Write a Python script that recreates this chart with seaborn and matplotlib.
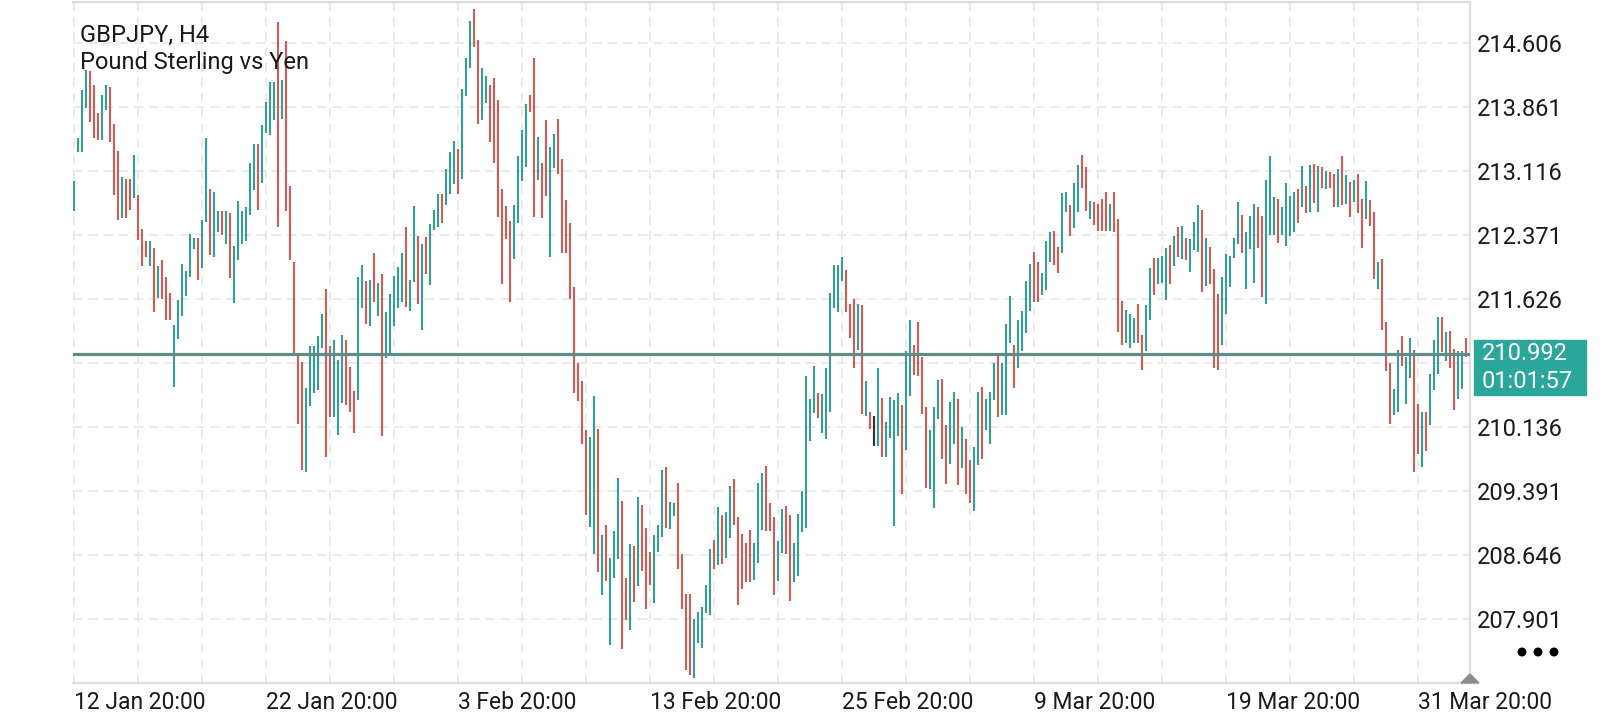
import numpy as np
import pandas as pd
import matplotlib
matplotlib.use("Agg")
import matplotlib.pyplot as plt
from matplotlib.patches import Rectangle, Polygon, Circle
import seaborn as sns

# chart text
symbol = "GBPJPY, H4"
description = "Pound Sterling vs Yen"
last_price = 210.992
countdown = "01:01:57"

# axis ticks (bar index for dates); 210.881 sits under the price tag
price_ticks = [207.901, 208.646, 209.391, 210.136, 210.881,
               211.626, 212.371, 213.116, 213.861, 214.606]
hidden_tick = 210.881
date_ticks = [0, 48, 96, 144, 192, 240, 288, 336]
date_labels = ["12 Jan 20:00", "22 Jan 20:00", "3 Feb 20:00", "13 Feb 20:00",
               "25 Feb 20:00", "9 Mar 20:00", "19 Mar 20:00", "31 Mar 20:00"]

# H4 bars: high / low
highs = [
    213.00, 213.50, 214.06, 214.30, 214.28, 214.12, 213.79, 214.01, 214.12, 214.10,
    213.67, 213.35, 213.05, 213.03, 213.03, 213.31, 212.84, 212.45, 212.30, 212.30,
    212.22, 212.01, 212.08, 211.89, 211.70, 211.33, 211.62, 212.04, 211.96, 212.39,
    212.34, 212.34, 212.55, 213.50, 212.91, 212.87, 212.65, 212.65, 212.65, 212.63,
    212.25, 212.77, 212.65, 212.70, 213.21, 213.43, 213.43, 213.66, 213.92, 214.16,
    214.15, 214.85, 214.18, 214.63, 212.94, 212.06, 211.00, 210.90, 210.59, 211.08,
    211.08, 211.20, 211.46, 211.75, 211.08, 211.15, 210.92, 211.21, 211.15, 210.84,
    210.56, 211.89, 212.02, 211.84, 211.85, 212.17, 211.82, 211.92, 211.48, 211.69,
    211.90, 212.00, 212.16, 212.47, 211.85, 212.71, 212.36, 212.27, 212.35, 212.50,
    212.67, 212.85, 212.85, 213.14, 213.34, 213.47, 213.38, 214.07, 214.43, 214.87,
    215.00, 214.64, 214.32, 214.23, 214.12, 214.20, 213.95, 212.91, 212.71, 212.54,
    212.72, 213.29, 213.60, 213.90, 214.00, 214.43, 213.52, 213.21, 213.71, 213.40,
    213.55, 213.72, 213.26, 212.78, 212.52, 211.77, 210.88, 210.67, 210.11, 210.02,
    210.50, 210.12, 208.88, 209.00, 208.62, 208.93, 209.55, 209.28, 208.38, 208.78,
    208.75, 209.33, 209.23, 208.96, 208.69, 208.88, 209.00, 209.64, 209.68, 209.27,
    209.25, 209.49, 208.66, 208.20, 208.20, 207.91, 207.99, 208.04, 208.30, 208.72,
    208.82, 209.21, 209.12, 209.15, 209.45, 209.53, 209.09, 208.89, 208.79, 208.94,
    208.79, 209.49, 209.61, 209.69, 209.26, 209.09, 208.81, 209.19, 209.22, 209.11,
    208.79, 209.13, 209.39, 210.73, 210.47, 210.85, 210.54, 210.52, 210.83, 211.70,
    212.03, 212.03, 212.12, 211.97, 211.57, 211.63, 211.57, 211.56, 210.67, 210.31,
    210.27, 210.83, 210.48, 210.20, 210.49, 210.46, 210.53, 210.40, 211.02, 211.38,
    211.10, 211.36, 210.95, 210.37, 210.10, 210.37, 210.69, 210.70, 210.16, 210.43,
    210.55, 210.47, 210.14, 210.00, 209.76, 209.91, 210.55, 210.61, 210.47, 210.55,
    210.88, 210.97, 210.88, 211.34, 211.67, 211.10, 211.38, 211.49, 211.84, 212.04,
    212.18, 212.06, 211.93, 212.30, 212.41, 212.42, 212.24, 212.86, 212.88, 212.72,
    212.98, 213.19, 213.31, 213.17, 212.77, 212.76, 212.74, 212.79, 212.87, 212.74,
    212.88, 212.56, 211.61, 211.50, 211.46, 211.41, 211.57, 211.21, 211.56, 211.99,
    212.11, 212.11, 212.13, 212.22, 212.26, 212.36, 212.47, 212.48, 212.34, 212.33,
    212.53, 212.72, 212.67, 212.34, 212.24, 211.98, 211.69, 211.89, 212.15, 212.13,
    212.34, 212.76, 212.61, 212.41, 212.60, 212.73, 212.70, 212.60, 213.02, 213.30,
    212.82, 212.79, 212.70, 212.98, 212.83, 212.87, 212.91, 213.18, 212.94, 213.19,
    213.20, 213.18, 213.17, 213.12, 213.11, 213.09, 213.14, 213.30, 213.07, 212.99,
    213.02, 213.09, 212.79, 213.00, 212.78, 212.64, 212.06, 212.10, 211.36, 210.88,
    210.58, 211.04, 211.20, 210.95, 211.18, 211.04, 210.41, 210.32, 210.31, 210.76,
    211.15, 211.42, 211.42, 211.25, 211.26, 211.05, 211.03, 211.03, 211.18,
]
lows = [
    212.65, 213.34, 213.34, 213.85, 213.69, 213.50, 213.48, 213.48, 213.83, 213.46,
    212.84, 212.55, 212.57, 212.57, 212.67, 212.80, 212.32, 212.01, 212.12, 212.01,
    211.48, 211.64, 211.63, 211.39, 211.39, 210.61, 211.17, 211.43, 211.66, 211.89,
    212.21, 211.85, 211.99, 212.53, 212.14, 212.12, 212.41, 212.37, 212.27, 211.87,
    211.58, 212.08, 212.27, 212.30, 212.61, 212.90, 212.67, 212.98, 213.56, 213.54,
    213.71, 212.47, 213.73, 212.65, 212.08, 211.00, 210.18, 209.64, 209.62, 210.38,
    210.54, 210.57, 211.06, 209.79, 210.26, 210.26, 210.05, 210.42, 210.40, 210.32,
    210.07, 210.46, 211.53, 211.34, 211.32, 211.60, 211.43, 210.04, 210.94, 210.98,
    211.31, 211.52, 211.60, 211.54, 211.49, 211.83, 211.57, 211.27, 211.92, 211.79,
    212.43, 212.47, 212.52, 212.72, 212.85, 212.97, 212.85, 213.03, 213.99, 214.32,
    214.56, 213.67, 213.71, 213.91, 213.46, 213.21, 212.58, 211.80, 212.33, 211.60,
    212.09, 212.52, 213.00, 213.17, 213.81, 212.58, 213.02, 212.57, 212.83, 212.12,
    213.15, 213.08, 212.17, 212.17, 211.63, 210.54, 210.44, 209.94, 209.12, 208.98,
    208.66, 208.45, 208.18, 208.35, 207.60, 208.38, 208.60, 207.56, 207.89, 207.78,
    208.10, 208.29, 208.46, 208.02, 208.30, 208.09, 208.68, 208.86, 208.96, 208.95,
    209.10, 208.49, 208.02, 207.31, 207.25, 207.22, 207.62, 207.57, 207.98, 207.95,
    208.49, 208.53, 208.55, 208.61, 208.85, 209.00, 208.07, 208.25, 208.34, 208.34,
    208.36, 208.56, 208.94, 208.93, 208.93, 208.18, 208.35, 208.67, 208.66, 208.12,
    208.34, 208.40, 208.92, 208.96, 209.98, 210.30, 210.25, 210.07, 210.00, 210.31,
    211.53, 211.48, 211.84, 211.48, 211.18, 210.83, 211.04, 210.29, 210.27, 210.12,
    209.92, 209.92, 209.79, 209.79, 210.01, 208.99, 210.03, 209.36, 209.87, 210.50,
    210.74, 210.73, 210.29, 209.43, 209.42, 209.20, 210.23, 209.77, 209.48, 209.71,
    209.94, 209.46, 209.66, 209.36, 209.25, 209.16, 209.70, 209.77, 210.10, 209.94,
    210.45, 210.26, 210.28, 210.28, 211.12, 210.59, 210.83, 211.02, 211.23, 211.49,
    211.59, 211.59, 211.68, 211.73, 212.06, 212.02, 211.93, 212.17, 212.64, 212.36,
    212.46, 212.64, 212.92, 212.66, 212.56, 212.49, 212.42, 212.42, 212.42, 212.42,
    212.41, 211.25, 211.09, 211.12, 211.06, 211.12, 211.12, 210.80, 211.03, 211.38,
    211.68, 211.80, 211.82, 211.62, 211.81, 212.01, 212.12, 212.10, 212.08, 211.94,
    212.20, 212.18, 211.71, 211.78, 211.80, 210.83, 210.80, 211.09, 211.46, 211.77,
    212.11, 212.27, 212.17, 211.75, 212.21, 211.82, 212.22, 211.65, 211.57, 212.37,
    212.38, 212.28, 212.38, 212.25, 212.36, 212.41, 212.51, 212.70, 212.63, 212.64,
    212.75, 212.64, 212.92, 212.91, 212.92, 212.70, 212.70, 212.72, 212.74, 212.59,
    212.76, 212.63, 212.22, 212.56, 212.48, 211.86, 211.75, 211.27, 210.79, 210.18,
    210.28, 210.31, 210.85, 210.41, 210.71, 209.62, 209.83, 209.67, 209.86, 210.16,
    210.57, 210.76, 211.01, 210.91, 210.83, 210.34, 210.47, 210.58, 210.95,
]
# u = bullish bar, d = bearish bar, n = unchanged
direction = "".join([
    "uuuuddduud", "dduddudddu", "duddduuuuu", "uduuduudud", "uuuuuuduuu",
    "ududdddduu", "uuudduuudd", "duudududuu", "uuuduududu", "uuduuuduuu",
    "dduudddddd", "uuuudduddu", "uddddddddu", "ududuuuddu", "duddduuudu",
    "udddduuuuu", "duduuddddd", "uuuddduudd", "uuuuuuduuu", "uuudddudud",
    "nuduuuuduu", "dddduuuddu", "ududduuduu", "uduuuduuuu", "dduuudduud",
    "uudduddddu", "ddduuudduu", "duuudududu", "uududdduuu", "uuduuudduu",
    "uduuuududu", "dududdudud", "uddudduddd", "uuduuddudu", "uududduud",
])

sns.set_theme(style="white")
plt.rcParams['font.family'] = ['Roboto', 'DejaVu Sans']

bars = pd.DataFrame({"bar": np.arange(len(highs)), "high": highs, "low": lows,
                     "dir": list(direction)})
long_df = bars.melt(id_vars=["bar", "dir"], value_vars=["low", "high"],
                    value_name="price")
palette = {"u": "#3b9c94", "d": "#c2625b", "n": "#333333"}

fig = plt.figure(figsize=(16, 7.2), dpi=100)
ax = fig.add_axes([73 / 1600, 37 / 720, 1397 / 1600, 681 / 720])

# each bar is a vertical high-low segment
sns.lineplot(data=long_df, x="bar", y="price", units="bar", estimator=None,
             hue="dir", palette=palette, linewidth=1.55, legend=False, ax=ax,
             solid_capstyle="butt", zorder=2)

ax.axhline(last_price, color="#5f8c87", lw=2.3, zorder=3)

ax.set_xlim(-0.25, 349)
ax.set_ylim(207.16, 215.087)
ax.set_xlabel("")
ax.set_ylabel("")

ax.set_xticks(date_ticks)
ax.set_xticklabels(date_labels, ha="left")
ax.set_xticks(np.arange(0, len(highs), 16), minor=True)
ax.set_yticks(price_ticks)
ax.set_yticklabels(["" if p == hidden_tick else f"{p:.3f}" for p in price_ticks])
ax.yaxis.tick_right()

grid_kw = dict(color="#e4e4e4", linestyle=(0, (6, 4)), linewidth=1.1, zorder=0)
ax.grid(True, which="both", axis="x", **grid_kw)
ax.grid(True, which="major", axis="y", **grid_kw)
ax.set_axisbelow(True)

ax.tick_params(axis="both", which="both", length=0, colors="#1a1a1a")
ax.tick_params(axis="x", labelsize=16.5, pad=5.5)
ax.tick_params(axis="y", labelsize=17, pad=5)

for side in ["top", "right", "bottom"]:
    ax.spines[side].set_color("#dedede")
    ax.spines[side].set_linewidth(1.6)
ax.spines["left"].set_visible(False)

# overlay in pixel coordinates for the header, price tag and markers
ov = fig.add_axes([0, 0, 1, 1])
ov.set_xlim(0, 1600)
ov.set_ylim(720, 0)
ov.axis("off")
ov.patch.set_alpha(0)

ov.text(80, 41.5, symbol, fontsize=17, color="#1a1a1a", va="baseline")
ov.text(80, 69, description, fontsize=17, color="#1a1a1a", va="baseline")

ov.add_patch(Rectangle((1474, 340), 112, 55, color="#2ba69a", zorder=5))
ov.text(1482, 353, f"{last_price:.3f}", color="white", fontsize=17,
        va="center", zorder=6)
ov.text(1482, 381, countdown, color="white", fontsize=17, va="center", zorder=6)

for cx in [1522, 1538, 1554]:
    ov.add_patch(Circle((cx, 652), 3.8, color="black"))
ov.add_patch(Polygon([(1461, 683), (1479, 683), (1470, 674)], closed=True,
                     color="#8c8c8c"))

fig.savefig("out.png", dpi=100)
